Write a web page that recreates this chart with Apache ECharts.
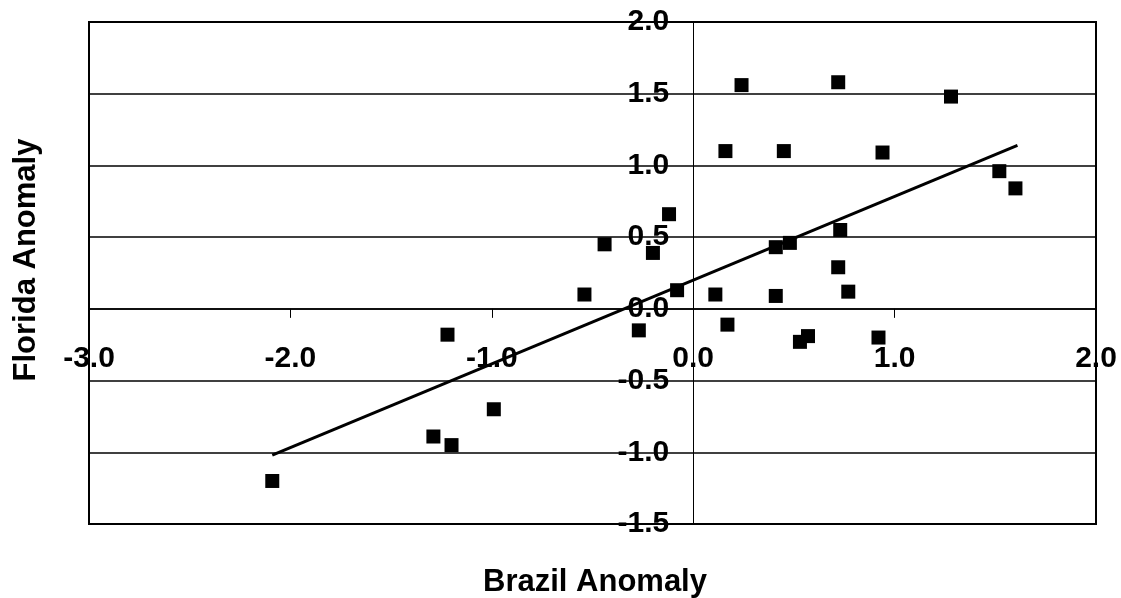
<!DOCTYPE html>
<html>
<head>
<meta charset="utf-8">
<title>Brazil vs Florida Anomaly</title>
<script src="https://cdn.jsdelivr.net/npm/echarts@6/dist/echarts.min.js"></script>
<style>
  html, body { margin: 0; padding: 0; background: #fff; }
  #chart { width: 1121px; height: 598px; }
</style>
</head>
<body>
<div id="chart"></div>
<script>
// Yearly anomalies: Brazil (x) against Florida (y)
const brazilAnomaly = [
  -2.09, -1.29, -1.20, -1.22, -0.99, -0.54, -0.44, -0.27, -0.20, -0.12,
  -0.08, 0.11, 0.17, 0.16, 0.24, 0.45, 0.41, 0.48, 0.41, 0.53,
  0.57, 0.72, 0.73, 0.72, 0.77, 0.92, 0.94, 1.28, 1.52, 1.60
];
const floridaAnomaly = [
  -1.20, -0.89, -0.95, -0.18, -0.70, 0.10, 0.45, -0.15, 0.39, 0.66,
  0.13, 0.10, -0.11, 1.10, 1.56, 1.10, 0.43, 0.46, 0.09, -0.23,
  -0.19, 1.58, 0.55, 0.29, 0.12, -0.20, 1.09, 1.48, 0.96, 0.84
];

// Linear trend line end points
const trendX = [-2.09, 1.61];
const trendY = [-1.02, 1.14];

// Axis ranges and steps
const xRange = [-3, 2];
const xStep = 1;
const yRange = [-1.5, 2];
const yStep = 0.5;

const xTitle = 'Brazil Anomaly';
const yTitle = 'Florida Anomaly';

const FONT = '"Liberation Sans", Arial, Helvetica, sans-serif';

const points = brazilAnomaly.map((x, i) => [x, floridaAnomaly[i]]);
const trend = trendX.map((x, i) => [x, trendY[i]]);

const chart = echarts.init(document.getElementById('chart'), null, { renderer: 'canvas' });

const tickLabel = {
  color: '#000',
  fontFamily: FONT,
  fontWeight: 'bold',
  fontSize: 30,
  formatter: v => v.toFixed(1)
};

chart.setOption({
  backgroundColor: '#ffffff',
  animation: false,
  grid: {
    left: 89,
    right: 25,
    top: 22,
    bottom: 74,
    show: true,
    borderColor: '#000',
    borderWidth: 2,
    backgroundColor: 'transparent'
  },
  xAxis: {
    type: 'value',
    position: 'bottom',
    min: xRange[0],
    max: xRange[1],
    interval: xStep,
    axisLine: { show: true, onZero: false, lineStyle: { color: '#000', width: 1.5 } },
    axisTick: { show: true, inside: false, length: 9, lineStyle: { color: '#000', width: 1 } },
    axisLabel: Object.assign({ margin: 35 }, tickLabel),
    splitLine: { show: false }
  },
  yAxis: {
    type: 'value',
    position: 'left',
    min: yRange[0],
    max: yRange[1],
    interval: yStep,
    axisLine: { show: true, onZero: false, lineStyle: { color: '#000', width: 1 } },
    axisTick: { show: false },
    axisLabel: Object.assign({ margin: 24 }, tickLabel),
    splitLine: { show: true, lineStyle: { color: '#000', width: 1.5 } }
  },
  graphic: [
    {
      type: 'text',
      x: 595,
      y: 582,
      style: {
        text: xTitle,
        font: 'bold 31px ' + FONT,
        fill: '#000',
        align: 'center',
        verticalAlign: 'middle'
      }
    },
    {
      type: 'text',
      x: 26,
      y: 260,
      rotation: Math.PI / 2,
      style: {
        text: yTitle,
        font: 'bold 31px ' + FONT,
        fill: '#000',
        align: 'center',
        verticalAlign: 'middle'
      }
    }
  ],
  series: [
    {
      name: 'Trend',
      type: 'line',
      data: trend,
      showSymbol: false,
      symbol: 'none',
      lineStyle: { color: '#000', width: 3 },
      z: 3,
      silent: true
    },
    {
      name: 'Anomaly',
      type: 'scatter',
      data: points,
      symbol: 'rect',
      symbolSize: 14,
      itemStyle: { color: '#000', opacity: 1 },
      z: 4
    }
  ]
});

// Move both axes (line, ticks and labels) so they cross at the origin.
const leftPx = chart.convertToPixel({ xAxisIndex: 0 }, xRange[0]);
const zeroXPx = chart.convertToPixel({ xAxisIndex: 0 }, 0);
const bottomPx = chart.convertToPixel({ yAxisIndex: 0 }, yRange[0]);
const zeroYPx = chart.convertToPixel({ yAxisIndex: 0 }, 0);

chart.setOption({
  xAxis: { offset: zeroYPx - bottomPx },
  yAxis: { offset: leftPx - zeroXPx }
});
</script>
</body>
</html>
